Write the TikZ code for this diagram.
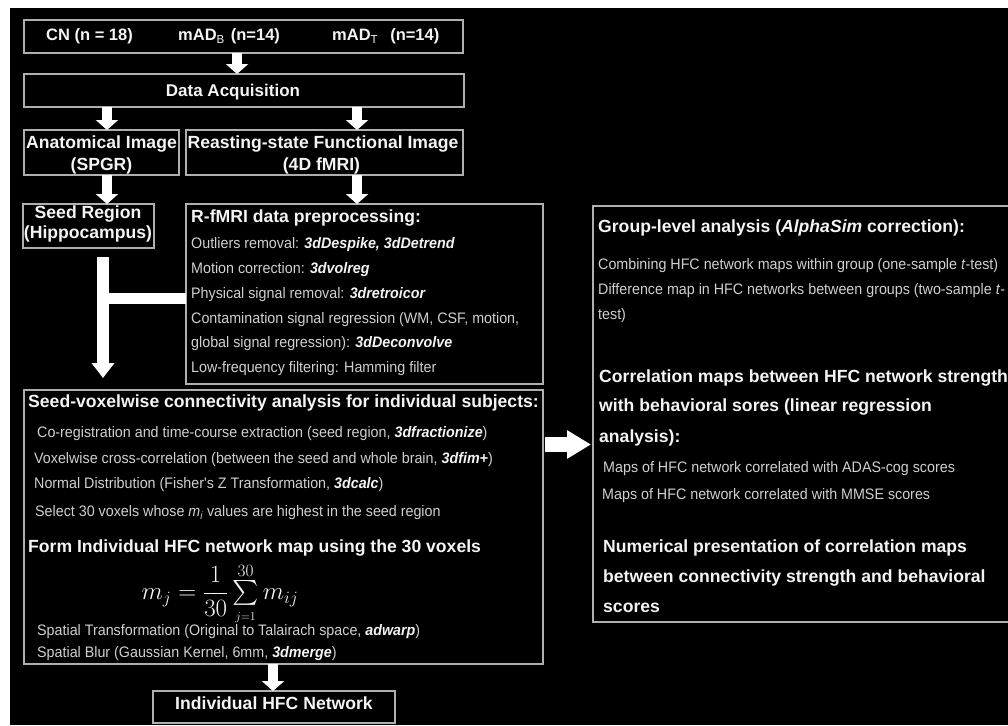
\documentclass[tikz,border=0pt]{standalone}
\usepackage{exscale}
\usepackage[no-math]{fontspec}
\setmainfont{Liberation Sans}
\newfontfamily\smfam[FakeStretch=0.94]{Liberation Sans}
\usetikzlibrary{arrows.meta}
\definecolor{txtgray}{RGB}{208,208,208}
\definecolor{txtwhite}{RGB}{244,244,244}
\definecolor{boxgray}{RGB}{175,175,175}
\newcommand{\smfont}{\smfam\fontsize{15.2}{17}\selectfont}
\newcommand{\bdfont}{\fontsize{17.6}{20}\selectfont\bfseries}
\newcommand{\cmdn}[1]{\textcolor{txtwhite}{\textbf{\textit{#1}}}}
\newcommand{\mkbox}[5]{\node[boxst, minimum width={#4pt-#2pt}, minimum height={#5pt-#3pt}] (#1) at ({(#2+#4)/2},{(#3+#5)/2}) {};}
\begin{document}
\begin{tikzpicture}[x=1pt,y=-1pt,
  boxst/.style={draw=boxgray, line width=1.3pt, rectangle, inner sep=0pt, outer sep=0pt},
  sm/.style={font=\smfont, text=txtgray, inner sep=0pt, anchor=base west},
  bd/.style={font=\bdfont, text=txtwhite, inner sep=0pt, anchor=base west},
  bdc/.style={font=\bdfont, text=txtwhite, inner sep=0pt, anchor=base},
  topt/.style={font=\fontsize{16.5}{20}\selectfont\bfseries, text=txtwhite, inner sep=0pt, anchor=base west},
  darrow/.style={draw=white, line width=10pt, -{Triangle[width=22pt,length=10pt]}},
]
\useasboundingbox (0,0) rectangle (1008,725);
\fill[white] (0,0) rectangle (1008,725);
\fill[black] (10,8) rectangle (1008,725);

% boxes
\mkbox{grp}{24}{20}{463}{53}
\mkbox{acq}{24}{74}{464}{107}
\mkbox{anat}{24}{130}{179}{175}
\mkbox{func}{186}{130}{463}{175}
\mkbox{seed}{23}{204}{154}{248}
\mkbox{prep}{186}{204}{543}{384}
\mkbox{svox}{24}{390}{543}{664}
\mkbox{indiv}{153}{691}{395}{723}
\mkbox{grpl}{593}{206}{1016}{622}

% arrow columns
\coordinate (xa) at (237,0);
\coordinate (xl) at (107,0);
\coordinate (xr) at (357,0);
\coordinate (xi) at (273,0);
\coordinate (xt) at (103,0);
\coordinate (barY) at (0,298.5);
\coordinate (rY) at (0,444.5);

\draw[darrow] (grp.south -| xa) -- (acq.north -| xa);
\draw[darrow] (acq.south -| xl) -- (anat.north -| xl);
\draw[darrow] (acq.south -| xr) -- (func.north -| xr);
\draw[darrow] (anat.south -| xl) -- (seed.north -| xl);
\draw[darrow] (func.south -| xr) -- (prep.north -| xr);
\draw[darrow] (svox.south -| xi) -- (indiv.north -| xi);

% T-shaped arrow
\draw[white, line width=11pt] (prep.west |- barY) -- (xt |- barY);
\draw[white, line width=12pt, -{Triangle[width=22pt,length=15pt]}, shorten <=9pt, shorten >=12pt] (seed.south -| xt) -- (svox.north -| xt);

% right arrow
\draw[white, line width=15pt, -{Triangle[width=27pt,length=24pt]}, shorten <=2pt, shorten >=2pt] (svox.east |- rY) -- (grpl.west |- rY);

% top row
\node[topt] (cn) at (46,41) {CN (n = 18)};
\node[topt] (madb) at (178,41) {mAD\textsubscript{\mdseries B}\hspace{6pt}(n=14)};
\node[topt] (madt) at (332,41) {mAD\textsubscript{\mdseries T}\hspace{12pt}(n=14)};

\node[bdc, font=\fontsize{17}{20}\selectfont\bfseries] (tacq) at (233,96.5) {Data Acquisition};
\node[bdc] (ta1) at (101.5,148) {Anatomical Image};
\node[bdc] (ta2) at (101.5,170) {(SPGR)};
\node[bdc] (tf1) at (323,148) {Reasting-state Functional Image};
\node[bdc] (tf2) at (321.5,170) {(4D fMRI)};
\node[bdc] (ts1) at (88,218.5) {Seed Region};
\node[bdc] (ts2) at (88,238.5) {(Hippocampus)};

% preprocessing
\node[bd] (p0) at (191,222.5) {R-fMRI data preprocessing:};
\node[sm] (p1) at (191,248.5) {Outliers removal: \cmdn{3dDespike, 3dDetrend}};
\node[sm] (p2) at (191,273.5) {Motion correction: \cmdn{3dvolreg}};
\node[sm] (p3) at (191,298.5) {Physical signal removal: \cmdn{3dretroicor}};
\node[sm] (p4) at (191,323.5) {Contamination signal regression (WM, CSF, motion,};
\node[sm] (p5) at (191,347.5) {global signal regression): \cmdn{3dDeconvolve}};
\node[sm] (p6) at (191,372.5) {Low-frequency filtering: Hamming filter};

% seed-voxelwise
\node[bd] (s0) at (28,407.5) {Seed-voxelwise connectivity analysis for individual subjects:};
\node[sm] (s1) at (37,437.5) {Co-registration and time-course extraction (seed region, \cmdn{3dfractionize})};
\node[sm] (s2) at (34,463.5) {Voxelwise cross-correlation (between the seed and whole brain, \cmdn{3dfim+})};
\node[sm] (s3) at (34,488.5) {Normal Distribution (Fisher's Z Transformation, \cmdn{3dcalc})};
\node[sm] (s4) at (35,516.5) {Select 30 voxels whose \textit{m\textsubscript{i}} values are highest in the seed region};
\node[bd] (s5) at (28,552.5) {Form Individual HFC network map using the 30 voxels};
\node[text=txtwhite, inner sep=0pt] (fml) at (220,594) {\fontsize{23}{27}\selectfont$\displaystyle m_{j}=\frac{1}{30}\mathop{\textstyle\sum}\limits^{\scriptstyle 30}_{\scriptscriptstyle j=1}m_{ij}$};
\node[sm] (s6) at (37,635) {Spatial Transformation (Original to Talairach space, \cmdn{adwarp})};
\node[sm] (s7) at (37,657.5) {Spatial Blur (Gaussian Kernel, 6mm, \cmdn{3dmerge})};

\node[bdc] (tind) at (274,709) {Individual HFC Network};

% right box
\node[bd] (g0) at (598,232.5) {Group-level analysis (\textit{AlphaSim} correction):};
\node[sm] (g1) at (598,269.5) {Combining HFC network maps within group (one-sample \textit{t}-test)};
\node[sm] (g2) at (598,294.5) {Difference map in HFC networks between groups (two-sample \textit{t}-};
\node[sm] (g3) at (598,319.5) {test)};
\node[bd] (c0) at (599,382.5) {Correlation maps between HFC network strength};
\node[bd] (c1) at (599,411.5) {with behavioral sores (linear regression};
\node[bd] (c2) at (599,442.5) {analysis):};
\node[sm] (c3) at (603,472.5) {Maps of HFC network correlated with ADAS-cog scores};
\node[sm] (c4) at (602,499.5) {Maps of HFC network correlated with MMSE scores};
\node[bd] (n0) at (603,552.5) {Numerical presentation of correlation maps};
\node[bd] (n1) at (603,582.5) {between connectivity strength and behavioral};
\node[bd] (n2) at (603,612.5) {scores};
\end{tikzpicture}
\end{document}
